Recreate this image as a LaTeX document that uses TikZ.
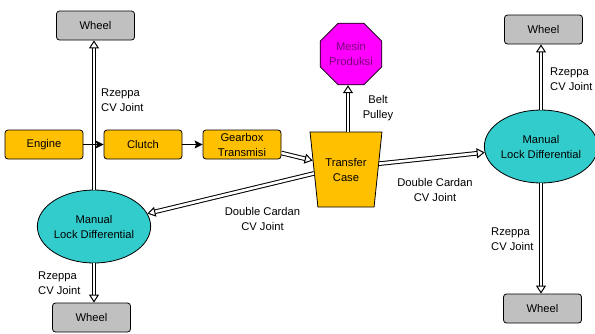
\documentclass[tikz,border=0pt]{standalone}
\usepackage{fontspec}
\setmainfont{Liberation Sans}
\usetikzlibrary{arrows.meta,shapes.geometric}
\definecolor{gold}{HTML}{FFC000}
\definecolor{wheelgray}{HTML}{C0C0C0}
\definecolor{teal}{HTML}{33CCCC}
\definecolor{machine}{HTML}{FF00FF}
\definecolor{machinetext}{HTML}{7A007A}
\tikzset{
  base/.style={draw=black, line width=0.8pt, font=\fontsize{11.2}{15}\selectfont, align=center, inner sep=0pt},
  wheel/.style={base, fill=wheelgray, rounded corners=3pt, minimum width=78pt, minimum height=29pt},
  unit/.style={base, fill=gold, rounded corners=3pt, minimum width=78pt, minimum height=29pt},
  diff/.style={base, ellipse, fill=teal, minimum width=106pt, minimum height=73pt},
  transfer/.style={base, trapezium, shape border rotate=180, trapezium stretches=true,
                   trapezium angle=76, fill=gold, minimum width=72pt, minimum height=75pt},
  machinebox/.style={base, regular polygon, regular polygon sides=8, fill=machine,
                     text=machinetext, minimum size=65pt},
  lbl/.style={font=\fontsize{11.2}{15}\selectfont, inner sep=0pt},
  solidarrow/.style={draw=black, line width=1pt, -{Stealth[length=8pt,width=8pt,inset=1.5pt]}},
  hollow/.style={draw=black, line width=1pt, double=white, double distance=2.6pt,
                 -{Triangle[open,length=8pt,width=10pt]}}
}
\begin{document}
\begin{tikzpicture}[x=1pt,y=-1pt]
\useasboundingbox[fill=white] (0,0) rectangle (595,333);

% drive train
\node[unit] (engine) at (44,144.5) {Engine};
\node[unit] (clutch) at (143,144.5) {Clutch};
\node[unit] (gearbox) at (242,144.5) {Gearbox\\Transmisi};
\node[transfer] (tc) at (346,169.5) {Transfer\\Case};
\node[machinebox] (mesin) at (351,54) {Mesin\\Produksi};

% differentials
\node[diff] (diffL) at (94,226.5) {Manual\\Lock Differential};
\node[diff] (diffR) at (541,146.5) {Manual\\Lock Differential};

% wheels
\node[wheel] (wTL) at (95.5,25.5) {Wheel};
\node[wheel] (wBL) at (91.5,317.5) {Wheel};
\node[wheel] (wTR) at (543.5,29.5) {Wheel};
\node[wheel] (wBR) at (542.5,308.5) {Wheel};

% shafts
\draw[hollow] (diffL.north) -- (diffL.north |- wTL.south);
\draw[hollow] (diffL.south) -- (diffL.south |- wBL.north);
\draw[hollow] (diffR.north) -- (diffR.north |- wTR.south);
\draw[hollow] (diffR.south) -- (diffR.south |- wBR.north);
\draw[hollow] ([yshift=-8.5pt]gearbox.east) -- (tc.165);
\draw[hollow] (tc.187) -- (diffL);
\draw[hollow] (tc.10) -- (diffR);
\draw[hollow] ([xshift=2pt]tc.90) -- ([xshift=2pt]tc.90 |- mesin.south);

\draw[solidarrow] (engine) -- (clutch);
\draw[solidarrow] (clutch) -- (gearbox);

% labels
\node[lbl, align=left, anchor=west] (l1) at (101,100.5) {Rzeppa\\CV Joint};
\node[lbl, align=left, anchor=west] (l2) at (38,283) {Rzeppa\\CV Joint};
\node[lbl, align=left, anchor=west] (l3) at (550,79) {Rzeppa\\CV Joint};
\node[lbl, align=left, anchor=west] (l4) at (491,239.5) {Rzeppa\\CV Joint};
\node[lbl, align=center] (l5) at (378,108.5) {Belt\\Pulley};
\node[lbl, align=center] (l6) at (435,190) {Double Cardan\\CV Joint};
\node[lbl, align=center] (l7) at (262.5,219) {Double Cardan\\CV Joint};
\end{tikzpicture}
\end{document}
